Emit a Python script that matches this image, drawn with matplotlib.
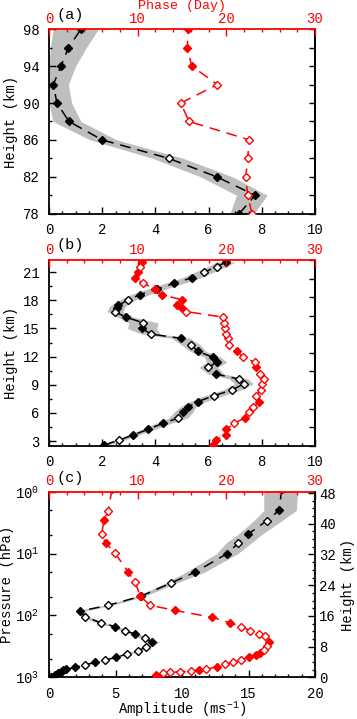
import numpy as np
import matplotlib
matplotlib.use("Agg")
import matplotlib.pyplot as plt
from matplotlib.ticker import MultipleLocator, FixedLocator, LogLocator, NullFormatter

plt.rcParams['font.family'] = ['Liberation Mono', 'DejaVu Sans']
plt.rcParams['mathtext.fontset'] = 'custom'
plt.rcParams['mathtext.rm'] = 'Liberation Mono'
plt.rcParams['mathtext.it'] = 'Liberation Mono'
plt.rcParams['font.size'] = 10

# ---------------- Panel (a) : meteor radar heights ----------------
a_height = [78, 80, 82, 84, 86, 88, 90, 92, 94, 96, 98]
a_amp = [7.15, 7.75, 6.3, 4.5, 2.0, 0.75, 0.3, 0.16, 0.45, 0.73, 1.2]
a_amp_lo = [6.8, 7.05, 5.7, 3.9, 1.55, 0.15, 0.0, 0.0, 0.0, 0.05, 0.16]
a_amp_hi = [7.7, 8.2, 6.9, 5.05, 2.55, 1.2, 0.85, 0.73, 1.0, 1.4, 1.85]
a_amp_sig = [1, 1, 1, 0, 1, 1, 1, 1, 1, 1, 1]
a_phase = [22.9, 22.4, 22.2, 22.4, 22.6, 15.8, 14.85, 19.0, 16.1, 15.6, 15.7]
a_phase_sig = [0, 0, 0, 0, 0, 0, 0, 0, 1, 1, 1]
a_yticks = [78, 82, 86, 90, 94, 98]

# ---------------- Panel (b) : radiosonde heights ----------------
b_height = [2.57, 3.1, 3.65, 4.25, 4.9, 5.45, 6.05, 6.6, 7.2, 7.85, 8.45, 9.1,
            9.6, 10.15, 10.85, 11.4, 11.95, 12.55, 13.25, 13.95, 14.4, 15.0,
            15.6, 16.2, 16.8, 17.2, 17.45, 18.05, 18.6, 19.2, 19.8, 20.4,
            21.0, 21.6, 22.1]
b_amp = [2.08, 2.63, 3.17, 3.73, 4.30, 4.86, 5.05, 5.21, 5.59, 6.22, 6.89, 7.33,
         7.14, 6.27, 5.99, 6.30, 6.15, 5.6, 5.33, 4.96, 3.83, 3.5, 3.55, 2.89,
         2.48, 2.54, 2.61, 2.96, 3.42, 4.05, 4.70, 5.36, 5.83, 6.33, 6.65]
b_amp_err = [0.15, 0.2, 0.2, 0.25, 0.3, 0.35, 0.35, 0.3, 0.3, 0.35, 0.35, 0.35,
             0.35, 0.3, 0.35, 0.38, 0.3, 0.3, 0.35, 0.35, 0.35, 0.55, 0.55, 0.3,
             0.3, 0.3, 0.3, 0.3, 0.35, 0.35, 0.35, 0.35, 0.35, 0.35, 0.35]
b_amp_sig = [1, 0, 1, 1, 1, 0, 1, 1, 1, 0, 0, 0, 0, 1, 0, 1, 1, 1, 0, 1, 0, 1,
             0, 1, 0, 1, 1, 0, 1, 1, 1, 1, 0, 0, 1]
b_phase = [18.5, 18.8, 19.95, 20.0, 20.9, 22.1, 22.5, 23.05, 23.7, 23.35, 23.9, 24.05,
           24.2, 23.8, 23.3, 23.2, 21.9, 21.2, 20.3, 20.15, 20.0, 19.85, 19.74, 19.66,
           15.5, 15.0, 14.47, 15.04, 12.7, 11.95, 10.64, 9.7, 10.08, 10.26, 10.45]
b_phase_sig = [1, 1, 1, 1, 0, 1, 0, 0, 1, 0, 0, 0, 0, 0, 1, 0, 0, 1, 0, 0, 0, 0,
               0, 0, 0, 1, 1, 1, 1, 1, 0, 1, 1, 0, 1]
b_yticks = [3, 6, 9, 12, 15, 18, 21]

# ---------------- Panel (c) : reanalysis pressure levels ----------------
c_pres_amp = [0.9, 2.0, 2.95, 4.9, 6.76, 10.0, 20.0, 29.9, 49.0, 68.4, 85.0, 105.0,
              131.0, 151.0, 178.0, 200.0, 234.0, 269.0, 324.0, 372.0, 417.0, 473.0,
              525.0, 575.0, 631.0, 692.0, 741.0, 776.0, 813.0, 851.0, 912.0, 977.0]
c_amp = [17.5, 17.3, 16.37, 14.94, 14.23, 13.4, 10.98, 9.17, 6.9, 4.46, 2.36, 2.68,
         3.88, 4.94, 5.74, 6.49, 7.19, 7.74, 7.32, 6.69, 5.89, 5.06,
         4.23, 3.43, 2.68, 1.93, 1.30, 1.05, 0.88, 0.68, 0.43, 0.17]
c_amp_lo = [16.15, 16.15, 15.4, 14.2, 13.3, 12.6, 10.3, 8.75, 6.6, 4.2, 2.0, 2.4,
            3.6, 4.65, 5.45, 6.2, 6.9, 7.4, 7.0, 6.4, 5.65, 4.85,
            4.0, 3.25, 2.5, 1.75, 1.15, 0.9, 0.75, 0.55, 0.3, 0.05]
c_amp_hi = [18.7, 18.6, 17.5, 16.0, 15.2, 14.2, 11.7, 9.6, 7.2, 4.75, 2.7, 3.0,
            4.2, 5.25, 6.05, 6.8, 7.5, 8.3, 7.65, 7.0, 6.15, 5.3,
            4.45, 3.65, 2.88, 2.1, 1.45, 1.2, 1.02, 0.82, 0.56, 0.3]
c_amp_sig = [1, 1, 0, 1, 0, 1, 1, 0, 1, 0, 1, 0, 0, 1, 0, 1, 0, 1, 0, 0, 0, 1,
             0, 1, 0, 1, 1, 1, 1, 1, 1, 1]
c_pres_phase = [0.9, 2.03, 2.88, 4.79, 6.76, 9.77, 20.0, 28.8, 49.0, 68.4, 83.0, 107.0,
                131.0, 151.0, 176.0, 200.0, 219.0, 269.0, 309.0, 363.0, 398.0, 437.0,
                473.0, 525.0, 575.0, 617.0, 676.0, 741.0, 759.0, 794.0, 813.0, 832.0,
                851.0, 912.0, 977.0]
c_phase = [7.1, 6.69, 6.2, 5.94, 6.39, 7.44, 8.94, 9.7, 10.3, 11.4, 14.2, 18.4,
           20.4, 21.65, 22.7, 23.7, 24.35, 24.8, 24.6, 24.2, 23.8, 23.4,
           22.5, 21.65, 20.7, 19.9, 18.9, 17.7, 16.95, 16.0, 14.75, 13.6,
           12.85, 12.1, 12.2]
c_phase_sig = [1, 0, 1, 0, 1, 0, 1, 0, 1, 0, 1, 1, 1, 0, 0, 0, 0, 1, 0, 0, 1, 1,
               1, 0, 0, 0, 1, 0, 1, 0, 0, 0, 0, 1, 1]
c_height_ticks = [0, 8, 16, 24, 32, 40, 48]
SCALE_HEIGHT = 7.0  # km, used for the pressure -> height axis

GRAY = '#bebebe'
RED = '#ff0000'
DASH = (7, 4.5)

fig = plt.figure(figsize=(3.57, 7.19), dpi=100)
L, W = 49 / 357, 266 / 357
axA = fig.add_axes([L, 0.7028, W, 0.2565])
axB = fig.add_axes([L, 0.3801, W, 0.2583])
axC = fig.add_axes([L, 0.0580, W, 0.2581])


def markers(ax, x, y, sig, color):
    x = np.asarray(x, float)
    y = np.asarray(y, float)
    s = np.asarray(sig, bool)
    ax.plot(x[s], y[s], ls='none', marker='D', ms=3.6, mfc=color, mec=color,
            mew=1.0, zorder=4)
    ax.plot(x[~s], y[~s], ls='none', marker='D', ms=3.6, mfc='white', mec=color,
            mew=1.0, zorder=4)


def panel(ax, y_amp, amp, lo, hi, sig, y_ph, ph, ph_sig, xmax, xmajor, xminor):
    ax.fill_betweenx(y_amp, lo, hi, color=GRAY, lw=0, zorder=1)
    ax.plot(amp, y_amp, color='k', lw=1.1, dashes=DASH, zorder=3)
    markers(ax, amp, y_amp, sig, 'k')
    ax.set_xlim(0, xmax)
    ax.xaxis.set_major_locator(MultipleLocator(xmajor))
    ax.xaxis.set_minor_locator(MultipleLocator(xminor))
    ax.tick_params(which='both', direction='in', top=False, right=False,
                   width=1.0, labelsize=10)
    ax.tick_params(which='major', length=5, pad=7)
    ax.tick_params(which='minor', length=2.5)
    for s in ['left', 'bottom', 'right']:
        ax.spines[s].set_linewidth(1.3)
    ax.spines['top'].set_visible(False)

    tw = ax.twiny()
    tw.plot(ph, y_ph, color=RED, lw=1.1, dashes=DASH, zorder=3)
    markers(tw, ph, y_ph, ph_sig, RED)
    tw.set_xlim(0, 30)
    tw.xaxis.set_major_locator(MultipleLocator(10))
    tw.xaxis.set_minor_locator(MultipleLocator(2))
    tw.tick_params(which='both', direction='in', colors=RED, width=1.0,
                   labelsize=10, bottom=False)
    tw.tick_params(which='major', length=5, pad=2.5)
    tw.tick_params(which='minor', length=2.5)
    for s in ['left', 'bottom', 'right']:
        tw.spines[s].set_visible(False)
    tw.spines['top'].set_color(RED)
    tw.spines['top'].set_linewidth(1.3)
    return tw


def right_ticks(ax, lo, hi):
    sec = ax.secondary_yaxis('right')
    sec.set_yticks(np.linspace(lo, hi, 11))
    sec.yaxis.set_major_formatter(NullFormatter())
    sec.tick_params(direction='in', length=4, width=1.0)
    sec.spines['right'].set_linewidth(1.3)


# Panel (a)
twA = panel(axA, a_height, a_amp, a_amp_lo, a_amp_hi, a_amp_sig,
            a_height, a_phase, a_phase_sig, 10, 2, 0.5)
axA.set_ylim(78, 98)
axA.yaxis.set_major_locator(FixedLocator(a_yticks))
axA.yaxis.set_minor_locator(MultipleLocator(2))
axA.set_ylabel('Height (km)', labelpad=3)
fig.text((49 + 315) / 2 / 357, 0.9995, 'Phase (Day)', color=RED, fontsize=9.5,
         ha='center', va='top')
right_ticks(axA, 78, 98)

# Panel (b)
b_lo = np.array(b_amp) - np.array(b_amp_err)
b_hi = np.array(b_amp) + np.array(b_amp_err)
twB = panel(axB, b_height, b_amp, b_lo, b_hi, b_amp_sig,
            b_height, b_phase, b_phase_sig, 10, 2, 0.5)
axB.set_ylim(2.5, 22.3)
axB.yaxis.set_major_locator(FixedLocator(b_yticks))
axB.yaxis.set_minor_locator(MultipleLocator(1.5))
axB.set_ylabel('Height (km)', labelpad=3)
right_ticks(axB, 2.5, 22.3)

# Panel (c)
axC.set_yscale('log')
twC = panel(axC, c_pres_amp, c_amp, c_amp_lo, c_amp_hi, c_amp_sig,
            c_pres_phase, c_phase, c_phase_sig, 20, 5, 1)
axC.set_ylim(1000, 1)
axC.yaxis.set_major_locator(LogLocator(base=10, numticks=10))
axC.yaxis.set_minor_locator(LogLocator(base=10, subs=(2.0, 5.0), numticks=10))
axC.yaxis.set_minor_formatter(NullFormatter())
axC.set_ylabel('Pressure (hPa)', labelpad=1)
axC.set_xlabel('Amplitude (ms$^{-1}$)', labelpad=-1)
axC.spines['right'].set_visible(False)

# right height axis: z = H ln(1000/p) is linear in log(p)
hz = axC.twinx()
hz.set_ylim(0, SCALE_HEIGHT * np.log(1000.0 / 1.0))
hz.yaxis.set_major_locator(FixedLocator(c_height_ticks))
hz.yaxis.set_minor_locator(MultipleLocator(2))
hz.tick_params(which='both', direction='in', width=1.0, labelsize=10)
hz.tick_params(which='major', length=5, pad=3)
hz.tick_params(which='minor', length=2.5)
for s in ['left', 'bottom', 'top']:
    hz.spines[s].set_visible(False)
hz.spines['right'].set_linewidth(1.3)
hz.set_ylabel('Height (km)', labelpad=4)

fig.text(0.157, 0.979, '(a)', fontsize=11, ha='left', va='center')
fig.text(0.157, 0.659, '(b)', fontsize=11, ha='left', va='center')
fig.text(0.157, 0.335, '(c)', fontsize=11, ha='left', va='center')

fig.savefig('out.png', dpi=100)
